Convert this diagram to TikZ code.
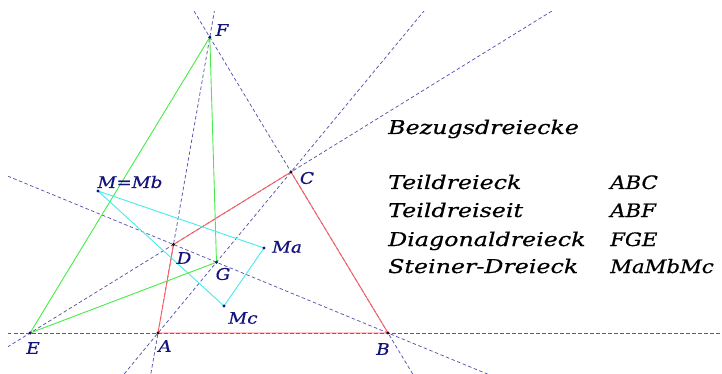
\documentclass[tikz,border=0pt]{standalone}
\usepackage{fontspec}
\newfontfamily\handfont{DejaVu Serif}[FakeStretch=1.15, FakeBold=0.6]
\newfontfamily\legendfont{DejaVu Serif}[FakeStretch=1.25, FakeBold=0.6]
\usetikzlibrary{calc}

\definecolor{auxblue}{RGB}{85,85,170}
\definecolor{quadred}{RGB}{255,95,95}
\definecolor{diaggreen}{RGB}{70,235,70}
\definecolor{steinercyan}{RGB}{70,235,235}
\definecolor{ptnavy}{RGB}{20,20,125}

\begin{document}
\begin{tikzpicture}[x=1pt, y=-1pt,
    auxline/.style={auxblue, dash pattern=on 3.5pt off 2.5pt, line width=0.75pt},
    quadline/.style={quadred, line width=0.9pt},
    diagline/.style={diaggreen, line width=0.9pt},
    steinerline/.style={steinercyan, line width=0.9pt},
    ptdot/.style={circle, fill=ptnavy, inner sep=0pt, minimum size=3.4pt},
    quaddot/.style={ptdot, fill=black!75!red},
    ptlabel/.style={text=ptnavy, inner sep=0pt,
                    font=\handfont\itshape\fontsize{16}{18}\selectfont},
    infotext/.style={anchor=base west, inner sep=0pt,
                     font=\legendfont\itshape\fontsize{19}{22}\selectfont},
    infovalue/.style={infotext, font=\handfont\itshape\fontsize{18.5}{22}\selectfont},
  ]
  \useasboundingbox (0,0) rectangle (722,374);

  % === Quadrilateral ABCD ===
  \coordinate (A) at (158,333);
  \coordinate (B) at (388,333);
  \coordinate (C) at (291,172);
  \coordinate (D) at (173.5,244.5);

  % diagonal points
  \coordinate (E) at (intersection of A--B and C--D);
  \coordinate (F) at (intersection of A--D and B--C);
  \coordinate (G) at (intersection of A--C and B--D);

  % Steiner points
  \coordinate (M) at (98,191);
  \coordinate (Ma) at (264,248);
  \coordinate (Mc) at (224,306);

  % === Lines of the quadrilateral ===
  \begin{scope}
    \clip (8,12) rectangle (722,374);
    \draw[auxline] ($(A)!-6!(B)$) -- ($(B)!-6!(A)$);
    \draw[auxline] ($(C)!-6!(D)$) -- ($(D)!-6!(C)$);
    \draw[auxline] ($(A)!-6!(D)$) -- ($(D)!-6!(A)$);
    \draw[auxline] ($(B)!-6!(C)$) -- ($(C)!-6!(B)$);
    \draw[auxline] ($(A)!-6!(C)$) -- ($(C)!-6!(A)$);
    \draw[auxline] ($(B)!-6!(D)$) -- ($(D)!-6!(B)$);
  \end{scope}

  % Triangles
  \draw[quadline] (A) -- (B) -- (C) -- (D) -- cycle;
  \draw[diagline] (E) -- (F) -- (G) -- cycle;
  \draw[steinerline] (M) -- (Ma) -- (Mc) -- cycle;

  % Points
  \foreach \p in {A,B,C,D}
    \node[quaddot] (dot\p) at (\p) {};
  \foreach \p in {E,F,G,M,Ma,Mc}
    \node[ptdot] (dot\p) at (\p) {};

  % Labels
  \node[ptlabel] (labA) at (165,346) {A};
  \node[ptlabel] (labB) at (383,349) {B};
  \node[ptlabel] (labC) at (307,178) {C};
  \node[ptlabel] (labD) at (184,258) {D};
  \node[ptlabel] (labE) at (33,348) {E};
  \node[ptlabel] (labF) at (222,30) {F};
  \node[ptlabel] (labG) at (223,274) {G};
  \node[ptlabel] (labM) at (130,182) {M=Mb};
  \node[ptlabel] (labMa) at (287,247) {Ma};
  \node[ptlabel] (labMc) at (243,318) {Mc};

  % === Legend ===
  \node[infotext] (title) at (388,134) {Bezugsdreiecke};
  \node[infotext] (teil) at (388,189) {Teildreieck};
  \node[infotext] (seit) at (388,217) {Teildreiseit};
  \node[infotext] (diag) at (388,246) {Diagonaldreieck};
  \node[infotext] (stei) at (388,273) {Steiner-Dreieck};
  \node[infovalue] (teilR) at (610,189) {ABC};
  \node[infovalue] (seitR) at (610,217) {ABF};
  \node[infovalue] (diagR) at (610,246) {FGE};
  \node[infovalue] (steiR) at (610,273) {MaMbMc};

\end{tikzpicture}
\end{document}
